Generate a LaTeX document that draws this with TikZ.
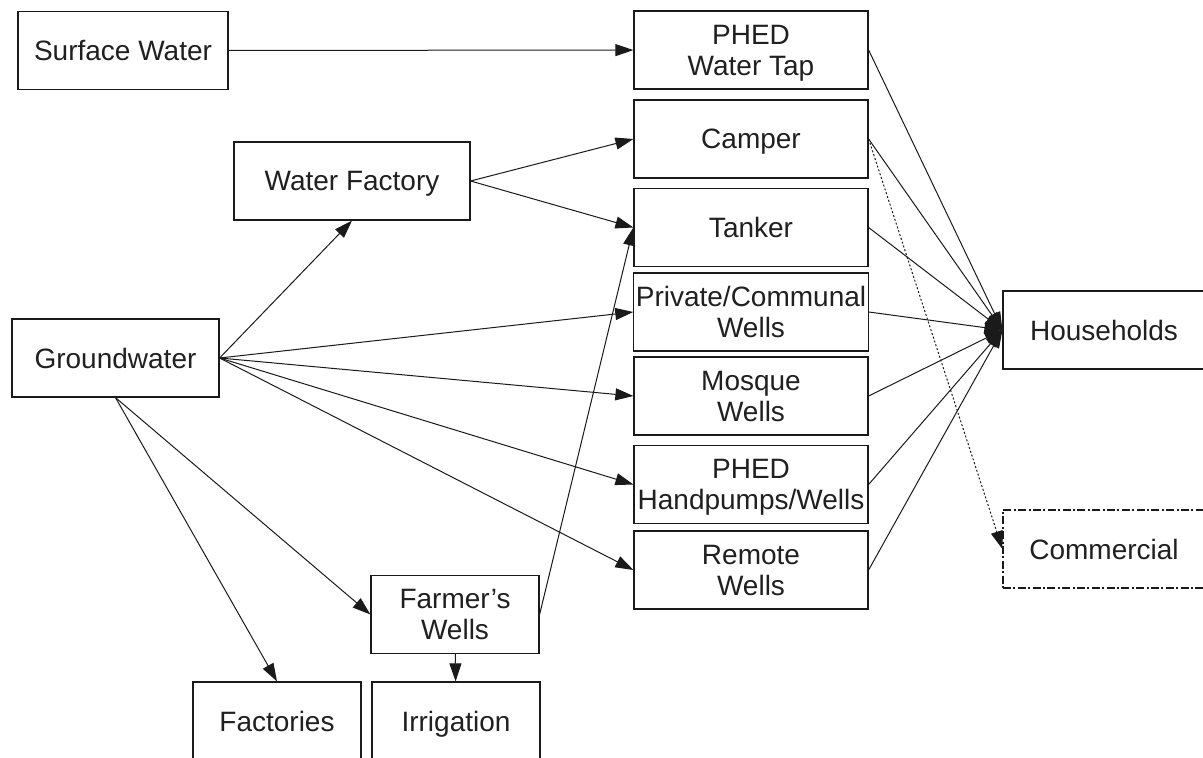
\documentclass[tikz,border=0pt]{standalone}
\usepackage{fontspec}
\setmainfont{Liberation Sans}
\usetikzlibrary{arrows.meta}
\definecolor{wsInk}{HTML}{1A1A1A}
\definecolor{wsText}{HTML}{202020}
\newcommand{\wsfont}{\fontsize{14}{15.5}\selectfont}
\tikzset{
  box/.style={rectangle,draw=wsInk,line width=0.6pt,fill=white,
    minimum width=117pt,minimum height=39pt,inner sep=1pt,align=center,
    text depth=0pt,font=\wsfont,text=wsText},
  source/.style={box},
  outlet/.style={box,minimum width=117pt},
  enduse/.style={box,minimum width=84pt},
  user/.style={box,minimum width=101pt},
  maybeuser/.style={user,dash pattern=on 4pt off 1.2pt on 1pt off 1.2pt},
  arrow/.style={-{Triangle[length=9pt,width=6pt]},draw=wsInk,line width=0.5pt},
  dotarrow/.style={arrow,dash pattern=on 1pt off 1pt}
}

\begin{document}
\begin{tikzpicture}[x=0.5pt,y=-0.5pt]
\useasboundingbox (0,0) rectangle (1203,758);
\clip (0,0) rectangle (1203,758);
% sources
\node[source, minimum width=105pt] (surface) at (123,50.5) {Surface Water};
\node[source, minimum width=103.5pt] (ground) at (115.5,358) {Groundwater};
\node[source, minimum width=118pt] (factory) at (352,181) {Water Factory};
\node[enduse] (farmer) at (455,614.5) {Farmer's\\Wells};
% outlets
\node[outlet] (tap) at (751,50) {PHED\\Water Tap};
\node[outlet] (camper) at (751,139) {Camper};
\node[outlet] (tanker) at (751,227.5) {Tanker};
\node[outlet] (private) at (751,312) {Private/Communal\\Wells};
\node[outlet] (mosque) at (751,396) {Mosque\\Wells};
\node[outlet] (pumps) at (751,484.5) {PHED\\Handpumps/Wells};
\node[outlet] (remote) at (751,570) {Remote\\Wells};
% users
\node[user] (house) at (1104,330) {Households};
\node[maybeuser] (commerce) at (1104,549) {Commercial};
\node[enduse] (factories) at (277,721) {Factories};
\node[enduse] (irrigation) at (456,721) {Irrigation};

\draw[arrow] (surface) -- (tap);
\draw[arrow] (ground.east) -- (factory.south);
\draw[arrow] (factory.east) -- (camper.west);
\draw[arrow] (factory.east) -- (tanker.west);
\draw[arrow] (ground.east) -- (private.west);
\draw[arrow] (ground.east) -- (mosque.west);
\draw[arrow] (ground.east) -- (pumps.west);
\draw[arrow] (ground.east) -- (remote.west);
\draw[arrow] (ground.south) -- (factories.north);
\draw[arrow] (ground.south) -- (farmer.west);
\draw[arrow] (farmer.east) -- (tanker.west);
\draw[arrow] (farmer) -- (irrigation);
\foreach \src in {tap,camper,tanker,private,mosque,pumps,remote}
  \draw[arrow] (\src.east) -- (house.west);
\draw[dotarrow] (camper.east) -- (commerce.west);
\end{tikzpicture}
\end{document}
